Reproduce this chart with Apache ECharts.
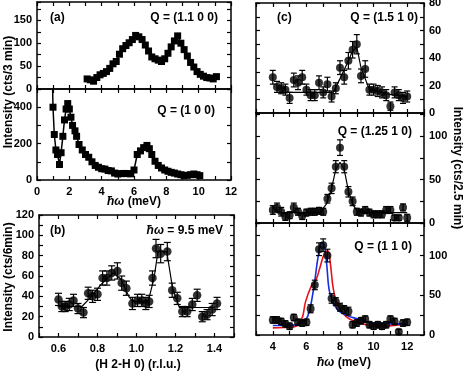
<!DOCTYPE html>
<html>
<head>
<meta charset="utf-8">
<script src="https://cdn.jsdelivr.net/npm/echarts@6/dist/echarts.min.js"></script>
<style>
  html, body { margin: 0; padding: 0; background: #fff; }
  #chart { width: 463px; height: 372px; }
</style>
</head>
<body>
<div id="chart"></div>
<script>
  // (a) upper: Q = (1.1 0 0)
  const aTopE = [3.1, 3.3, 3.5, 3.7, 3.9, 4.1, 4.3, 4.5, 4.7, 4.9, 5.1, 5.3, 5.5, 5.7, 5.9, 6.1, 6.3, 6.5, 6.7, 6.9, 7.1,
    7.3, 7.5, 7.7, 7.9, 8.1, 8.3, 8.5, 8.7, 8.9, 9.1, 9.3, 9.5, 9.7, 9.9, 10.1, 10.3, 10.5, 10.7, 10.9, 11.1];
  const aTopI = [22, 20, 17, 25, 31, 34, 38, 45, 55, 60, 76, 88, 95, 101, 108, 117, 114, 108, 96, 83, 70,
    66, 63, 60, 66, 78, 92, 105, 116, 100, 86, 72, 58, 48, 38, 32, 28, 25, 24, 22, 27];

  // (a) lower: Q = (1 0 0)
  const aBotE = [0.93, 0.99, 1.07, 1.17, 1.27, 1.39, 1.49, 1.6, 1.7, 1.8, 1.9, 2.0, 2.1, 2.2, 2.35, 2.45, 2.6, 2.8, 3.0,
    3.2, 3.4, 3.6, 3.8, 4.0, 4.2, 4.4, 4.6, 4.8, 5.0, 5.2, 5.4, 5.6, 5.8, 6.0, 6.2, 6.4, 6.6, 6.8, 6.95, 7.1, 7.3,
    7.5, 7.7, 7.9, 8.1, 8.3, 8.5, 8.7, 8.9, 9.1, 9.3, 9.5, 9.7, 9.9, 10.07];
  const aBotI = [650, 400, 250, 165, 140, 85, 150, 240, 330, 390, 420, 390, 345, 300, 270, 240, 195, 165, 140,
    125, 100, 80, 70, 62, 60, 52, 50, 38, 33, 35, 36, 35, 34, 55, 140, 160, 178, 190, 172, 140, 103,
    80, 66, 55, 48, 42, 38, 33, 29, 24, 26, 29, 33, 29, 24];

  // (b) constant energy scan, 9.5 meV
  const bH = [0.6, 0.617, 0.634, 0.655, 0.677, 0.7, 0.728, 0.752, 0.775, 0.8, 0.826, 0.848, 0.873, 0.902, 0.924,
    0.948, 0.979, 1.005, 1.027, 1.048, 1.065, 1.082, 1.1, 1.124, 1.158, 1.183, 1.209, 1.235, 1.26, 1.286,
    1.311, 1.337, 1.362, 1.388, 1.413];
  const bI = [37, 30, 30, 32, 36, 28, 24, 43, 40, 42, 58, 58, 63, 65, 53, 48, 33, 36, 36, 33, 35, 58, 87, 82, 84,
    46, 38, 25, 25, 32, 41, 20, 22, 27, 33];
  const bErr = [6, 5, 5, 6, 6, 5, 5, 6, 6, 6, 7, 7, 7, 8, 7, 7, 6, 6, 6, 6, 6, 7, 9, 9, 9, 7, 6, 5, 5, 6, 6, 5, 5, 6, 6];
  const bFitH = [0.6, 0.72, 0.76, 0.82, 0.88, 0.92, 0.96, 0.98, 1.06, 1.09, 1.11, 1.155, 1.185, 1.22, 1.4];
  const bFitI = [30, 30, 38, 52, 63, 57, 40, 35, 35, 58, 84, 84, 48, 29, 29];

  // (c) energy scans, shared energy grid
  const cE = [4, 4.25, 4.5, 4.75, 5, 5.25, 5.5, 5.75, 6, 6.25, 6.5, 6.75, 7, 7.25, 7.5, 7.75, 8, 8.25, 8.5, 8.75,
    9, 9.25, 9.5, 9.75, 10, 10.25, 10.5, 10.75, 11, 11.25, 11.5, 11.75, 12];
  // Q = (1.5 1 0)
  const c1I = [26, 19, 18, 17, 11, 24, 22, 26, 17, 13, 13, 22, 15, 21, 12, 18, 33, 26, 38, 46, 50, 27, 32, 17, 17,
    16, 15, 13, 5, 15, 13, 11, 12];
  const c1Err = [5, 4, 4, 4, 4, 5, 5, 5, 4, 4, 4, 5, 4, 5, 4, 4, 5, 5, 6, 6, 7, 5, 6, 4, 4, 4, 4, 4, 3, 4, 4, 4, 4];
  const c1FitE = [4.2, 7.6, 8.0, 8.5, 8.75, 9.0, 9.25, 9.5, 9.75, 10.25, 10.75, 11.25, 12];
  const c1FitI = [15, 15, 25, 38, 45, 48, 33, 25, 17, 16, 14, 13, 12];
  // Q = (1.25 1 0)
  const c2I = [15, 18, 13, 7, 9, 18, 13, 8, 12, 13, 13, 14, 13, 28, 40, 65, 87, 65, 36, 25, 13, 12, 15, 12, 10, 10,
    10, 15, 15, 6, 6, 18, 6];
  const c2Err = [5, 5, 5, 4, 4, 5, 4, 4, 4, 4, 4, 4, 4, 5, 6, 7, 9, 7, 6, 5, 4, 4, 4, 4, 4, 4, 4, 4, 4, 3, 3, 4, 4];
  const c2FitE = [4.2, 6.8, 7.2, 7.5, 7.75, 8.0, 8.25, 8.5, 8.75, 9.0, 9.5, 12];
  const c2FitI = [12, 12, 22, 40, 62, 70, 62, 37, 22, 14, 12, 12];
  // Q = (1 1 0)
  const c3I = [19, 19, 17, 14, 11, 22, 16, 15, 16, 33, 63, 108, 113, 100, 46, 42, 35, 32, 30, 13, 15, 18, 20, 13,
    11, 13, 11, 13, 20, 17, 4, 15, 16];
  const c3Err = [4, 4, 4, 4, 4, 4, 4, 4, 4, 5, 6, 8, 8, 8, 6, 5, 5, 5, 5, 4, 4, 4, 4, 4, 4, 4, 4, 4, 4, 4, 3, 4, 4];
  const blueE = [4.0, 5.0, 5.5, 5.95, 6.2, 6.45, 6.7, 6.9, 7.05, 7.2, 7.35, 7.55, 7.85, 8.35, 9.1, 9.9, 11.9];
  const blueI = [12, 12, 14, 19, 32, 61, 99, 116, 114, 91, 57, 43, 32, 25, 20, 15, 14];
  const redE = [4.0, 5.2, 5.7, 5.95, 6.28, 6.58, 6.78, 7.08, 7.28, 7.42, 7.61, 7.87, 8.37, 9.16, 10.35, 11.94];
  const redI = [9, 10, 19, 42, 61, 70, 83, 103, 106, 91, 57, 38, 23, 15, 11, 14];

  const FONT = '"Liberation Sans", Arial, sans-serif';
  const labelFont = { color: '#000', fontWeight: 'bold', fontSize: 11, fontFamily: FONT };
  const frame = { show: true, onZero: false, lineStyle: { color: '#000', width: 1.5 } };
  const ticks = { show: true, inside: true, length: 4, lineStyle: { color: '#000', width: 1.2 } };

  const pair = (xs, ys) => xs.map((x, i) => [x, ys[i]]);
  const onMajor = (v, major) => Math.abs(v / major - Math.round(v / major)) < 1e-6;

  const grids = [
    { left: 37, top: 2, width: 194, height: 87 },    // (a) upper
    { left: 37, top: 89, width: 194, height: 91 },   // (a) lower
    { left: 39, top: 215, width: 195, height: 122 }, // (b)
    { left: 256, top: 3, width: 168, height: 110 },  // (c) upper
    { left: 256, top: 113, width: 168, height: 110 },// (c) middle
    { left: 256, top: 223, width: 168, height: 112 } // (c) lower
  ];

  const xAxes = [];
  const yAxes = [];
  function addAxes(g, px, py) {
    ['bottom', 'top'].forEach((pos, j) => xAxes.push({
      type: 'value', gridIndex: g, position: pos, min: px.min, max: px.max, interval: px.step,
      axisLine: frame, axisTick: ticks, splitLine: { show: false },
      axisLabel: { ...labelFont, show: j === 0 && px.labels, margin: 6,
        formatter: v => onMajor(v, px.major) ? px.fmt(v) : '' }
    }));
    ['left', 'right'].forEach(pos => yAxes.push({
      type: 'value', gridIndex: g, position: pos, min: py.min, max: py.max, interval: py.step,
      axisLine: frame, axisTick: ticks, splitLine: { show: false },
      axisLabel: { ...labelFont, show: pos === py.side, margin: 5,
        formatter: v => onMajor(v, py.major) ? String(v) : '' }
    }));
  }
  const intFmt = v => String(Math.round(v));
  const eAxisA = { min: 0, max: 12, step: 1, major: 2, fmt: intFmt };
  const eAxisC = { min: 3, max: 13, step: 1, major: 2, fmt: intFmt };
  addAxes(0, { ...eAxisA, labels: false }, { min: 0, max: 190, step: 25, major: 50, side: 'left' });
  addAxes(1, { ...eAxisA, labels: true }, { min: 0, max: 500, step: 100, major: 200, side: 'left' });
  addAxes(2, { min: 0.5, max: 1.5, step: 0.1, major: 0.2, fmt: v => v.toFixed(1), labels: true },
    { min: 0, max: 120, step: 10, major: 20, side: 'left' });
  addAxes(3, { ...eAxisC, labels: false }, { min: 0, max: 80, step: 10, major: 20, side: 'right' });
  addAxes(4, { ...eAxisC, labels: false }, { min: 0, max: 127, step: 25, major: 50, side: 'right' });
  addAxes(5, { ...eAxisC, labels: true }, { min: 0, max: 141, step: 25, major: 50, side: 'right' });

  function dataLine(g, xs, ys) {
    return { type: 'line', xAxisIndex: 2 * g, yAxisIndex: 2 * g, data: pair(xs, ys),
      symbol: 'rect', symbolSize: 7, showAllSymbol: true, clip: true,
      itemStyle: { color: '#000' }, lineStyle: { color: '#000', width: 1.5 }, z: 3 };
  }
  function fitLine(g, xs, ys, color, width, smooth) {
    return { type: 'line', xAxisIndex: 2 * g, yAxisIndex: 2 * g, data: pair(xs, ys), symbol: 'none',
      smooth: smooth, lineStyle: { color: color, width: width }, z: 2 };
  }
  function dots(g, xs, ys, size) {
    return { type: 'scatter', xAxisIndex: 2 * g, yAxisIndex: 2 * g, data: pair(xs, ys),
      symbol: 'circle', symbolSize: size, itemStyle: { color: '#000' }, z: 4 };
  }
  function errBars(g, xs, ys, es, cap) {
    return {
      type: 'custom', xAxisIndex: 2 * g, yAxisIndex: 2 * g, silent: true, z: 3,
      data: xs.map((x, i) => [x, ys[i], es[i]]),
      renderItem: (params, api) => {
        const x = api.value(0), y = api.value(1), e = api.value(2);
        const hi = api.coord([x, y + e]);
        const lo = api.coord([x, y - e]);
        const st = { stroke: '#000', lineWidth: 1.2 };
        return { type: 'group', children: [
          { type: 'line', shape: { x1: hi[0], y1: hi[1], x2: lo[0], y2: lo[1] }, style: st },
          { type: 'line', shape: { x1: hi[0] - cap, y1: hi[1], x2: hi[0] + cap, y2: hi[1] }, style: st },
          { type: 'line', shape: { x1: lo[0] - cap, y1: lo[1], x2: lo[0] + cap, y2: lo[1] }, style: st }
        ] };
      }
    };
  }

  const series = [
    dataLine(0, aTopE, aTopI),
    dataLine(1, aBotE, aBotI),
    fitLine(2, bFitH, bFitI, '#000', 1.2, false),
    errBars(2, bH, bI, bErr, 3.5),
    dots(2, bH, bI, 8.5),
    fitLine(3, c1FitE, c1FitI, '#000', 1.2, false),
    errBars(3, cE, c1I, c1Err, 3),
    dots(3, cE, c1I, 8),
    fitLine(4, c2FitE, c2FitI, '#000', 1.2, false),
    errBars(4, cE, c2I, c2Err, 3),
    dots(4, cE, c2I, 8),
    errBars(5, cE, c3I, c3Err, 3),
    dots(5, cE, c3I, 8),
    fitLine(5, redE, redI, '#e8141c', 1.6, 0.4),
    fitLine(5, blueE, blueI, '#1530e0', 1.6, 0.4)
  ];

  const txt = (x, y, text, align, size, rot) => ({
    type: 'text', x: x, y: y, rotation: rot || 0, z: 10,
    style: { text: text, align: align, verticalAlign: 'middle', fill: '#000',
      font: 'bold ' + (size || 12) + 'px ' + FONT,
      rich: { i: { fontStyle: 'italic', fontWeight: 'bold', fontSize: size || 12, fontFamily: FONT } } }
  });

  const graphics = [
    txt(50, 18, '(a)', 'left'),
    txt(218, 18, 'Q = (1.1 0 0)', 'right'),
    txt(215, 111, 'Q = (1 0 0)', 'right'),
    txt(134, 202, '{i|ħω} (meV)', 'center'),
    txt(9, 92, 'Intensity (cts/3 min)', 'center', 12, Math.PI / 2),
    txt(50, 231, '(b)', 'left'),
    txt(223, 231, '{i|ħω} = 9.5 meV', 'right'),
    txt(9, 277, 'Intensity (cts/6min)', 'center', 12, Math.PI / 2),
    txt(138, 365, '(H 2-H 0) (r.l.u.)', 'center'),
    txt(277, 18, '(c)', 'left'),
    txt(418, 18, 'Q = (1.5 1 0)', 'right'),
    txt(412, 132, 'Q = (1.25 1 0)', 'right'),
    txt(412, 247, 'Q = (1 1 0)', 'right'),
    txt(344, 363, '{i|ħω} (meV)', 'center'),
    txt(457, 168, 'Intensity (cts/2.5 min)', 'center', 12, -Math.PI / 2)
  ];

  const chart = echarts.init(document.getElementById('chart'), null, { renderer: 'canvas' });
  chart.setOption({
    animation: false,
    backgroundColor: '#fff',
    grid: grids.map(g => ({ ...g, containLabel: false, outerBoundsMode: 'none' })),
    xAxis: xAxes,
    yAxis: yAxes,
    series: series,
    graphic: graphics
  });
</script>
</body>
</html>
